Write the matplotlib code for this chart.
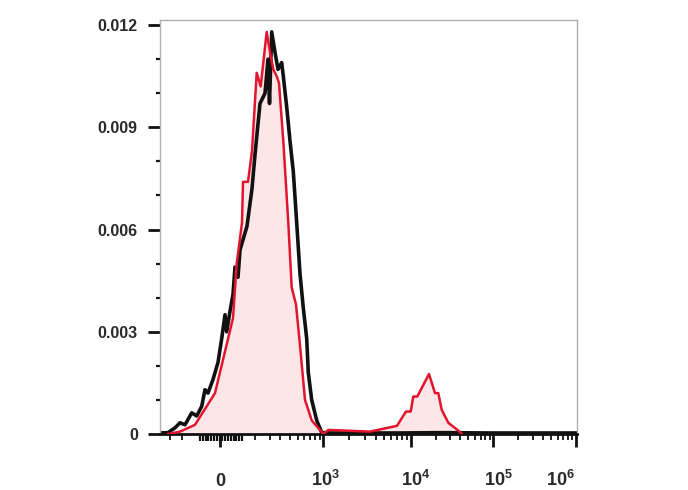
import numpy as np
import matplotlib
matplotlib.use('Agg')
import matplotlib.pyplot as plt
from matplotlib.transforms import ScaledTranslation

plt.rcParams['font.family'] = ['Liberation Sans', 'DejaVu Sans']
plt.rcParams['mathtext.fontset'] = 'custom'
plt.rcParams['mathtext.rm'] = 'Liberation Sans:bold'
plt.rcParams['mathtext.bf'] = 'Liberation Sans:bold'

# x in display channels of the biexponential axis, y = fraction of events
black_x = [0, 8, 15, 20, 25, 31.7, 36.7, 41.7, 45, 48, 53, 58, 61.7, 65, 66.7, 70, 73, 75, 78, 80,
           87, 92, 95, 100, 105, 108, 109.5, 111.7, 115, 118, 121.7, 123.3, 126.7, 130, 133.3,
           136.7, 140, 143.3, 146.7, 148.3, 151.7, 156.7, 161.7, 170, 200, 240, 280, 330, 380, 417]
black_y = [0.00003, 0.00004, 0.00018, 0.00033, 0.00027, 0.00062, 0.00053, 0.00081, 0.0013, 0.0012,
           0.0016, 0.0021, 0.0028, 0.0035, 0.0030, 0.0036, 0.0041, 0.0049, 0.0046, 0.0054,
           0.0061, 0.0072, 0.0082, 0.0097, 0.0100, 0.0110, 0.0097, 0.0118, 0.0112, 0.0107, 0.0109,
           0.0105, 0.0096, 0.0086, 0.0077, 0.0062, 0.0047, 0.0037, 0.0028, 0.0018, 0.0010, 0.0004,
           0.00004, 0.00003, 0.00003, 0.00003, 0.00004, 0.00003, 0.00003, 0.00003]

red_x = [8, 20, 35, 55, 73, 76.7, 82, 83, 88, 92, 96.7, 100.7, 106.7, 110, 113.3, 116.7, 119,
         123.3, 128.3, 131.7, 136, 140, 145, 151.7, 163.3, 168.3, 210, 237, 246, 250.7, 253.3,
         257.3, 269, 275, 278.3, 281.7, 288.3, 298.3, 302]
red_y = [0.0, 0.00007, 0.00027, 0.0012, 0.0034, 0.0050, 0.0062, 0.0074, 0.0074, 0.0083, 0.0106,
         0.0102, 0.0118, 0.0112, 0.0107, 0.0105, 0.0103, 0.0086, 0.0062, 0.0043, 0.0038, 0.0026,
         0.0010, 0.0004, 0.0, 0.00012, 0.00007, 0.00024, 0.00066, 0.00066, 0.0011, 0.0011,
         0.00176, 0.0012, 0.0012, 0.00071, 0.00033, 0.0001, 0.0]

y_major = [0, 0.003, 0.006, 0.009, 0.012]
y_labels = ['0', '0.003', '0.006', '0.009', '0.012']

x_major_labels = ['0', r'$10^{3}$', r'$10^{4}$', r'$10^{5}$', r'$10^{6}$']
x_label_shift = [0, 3, 5, 5, -16]   # px, as placed in the source figure
zero_ch = 60
decade_ch = [162.7, 250.7, 333.3, 416.0]
hundreds_ch = [95, 110, 120, 130, 138, 144, 150, 155, 160]
linear_ch = [10, 21.7]
cluster_ch = list(np.arange(40, 83, 2.8))


def chan(v):
    return np.interp(np.log10(v), [3, 4, 5, 6], decade_ch)


log_minor = [chan(m * 10 ** d) for d in (3, 4, 5) for m in range(2, 10)]

fig = plt.figure(figsize=(6.88, 4.9), dpi=100)
ax = fig.add_axes([160 / 688, 1 - 434 / 490, 417 / 688, 414 / 490])

ax.fill_between(red_x, red_y, color='#fde6e7', lw=0, zorder=1)
ax.plot(black_x, black_y, color='#111111', lw=2.6, zorder=2, solid_joinstyle='round')
ax.plot(red_x, red_y, color='#e3142d', lw=1.8, zorder=3)

ax.set_xlim(0, 417)
ax.set_ylim(0, 0.01215)

for s in ('left', 'top', 'right'):
    ax.spines[s].set_color('#b0b0b0')
    ax.spines[s].set_linewidth(1)
ax.spines['bottom'].set_color('#111111')
ax.spines['bottom'].set_linewidth(2)

ax.set_yticks(y_major)
ax.set_yticklabels(y_labels)
ax.set_yticks(np.arange(0.001, 0.0121, 0.001), minor=True)
ax.tick_params(axis='y', which='major', length=9, width=2, color='#111111', pad=7,
               labelsize=11.5, labelcolor='#2a2a2a')
ax.tick_params(axis='y', which='minor', length=3, width=1.6, color='#111111')

ax.set_xticks([zero_ch] + decade_ch)
ax.set_xticklabels(x_major_labels)
ax.set_xticks(hundreds_ch + linear_ch + log_minor, minor=True)
ax.tick_params(axis='x', which='major', length=9.5, width=2, color='#111111', pad=28,
               labelsize=13, labelcolor='#2a2a2a')
ax.tick_params(axis='x', which='minor', length=4.5, width=1.3, color='#111111')
for lab in ax.get_yticklabels():
    lab.set_fontweight('bold')
for lab, dx in zip(ax.get_xticklabels(), x_label_shift):
    lab.set_fontweight('bold')
    lab.set_verticalalignment('baseline')
    lab.set_transform(lab.get_transform() + ScaledTranslation(dx / 100, 0, fig.dpi_scale_trans))

sec = ax.secondary_xaxis('bottom')
sec.set_xticks(cluster_ch)
sec.set_xticklabels([])
sec.tick_params(length=5, width=1.6, color='#111111')
sec.spines['bottom'].set_visible(False)

fig.savefig('out.png', dpi=100)
